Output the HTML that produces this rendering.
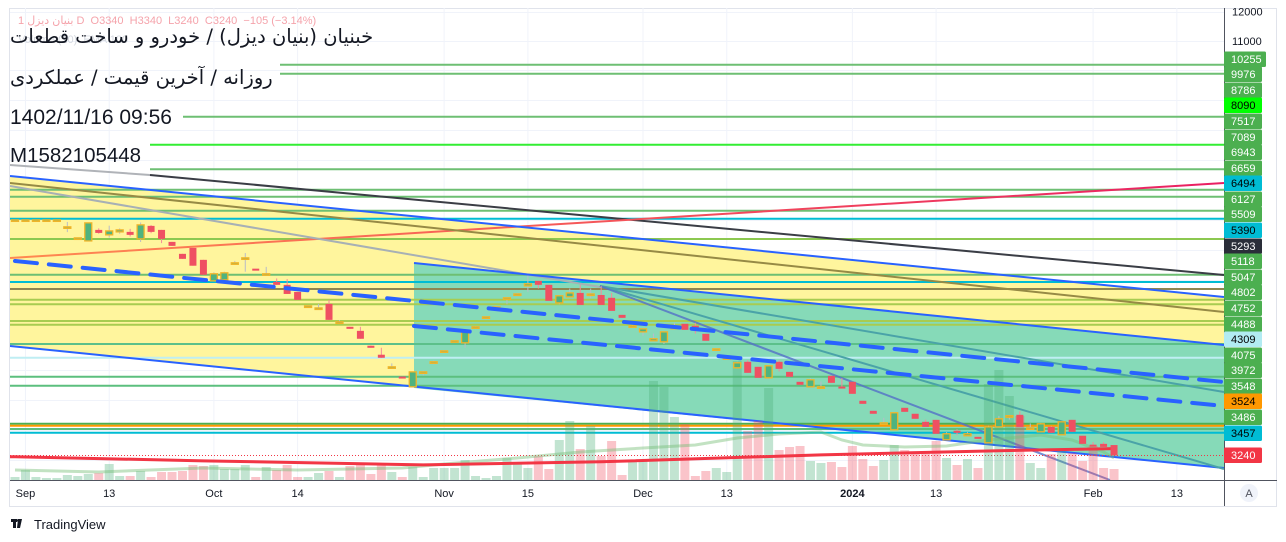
<!DOCTYPE html>
<html><head><meta charset="utf-8">
<style>
html,body{margin:0;padding:0;background:#fff;width:1286px;height:542px;overflow:hidden}
svg{position:absolute;left:0;top:0}
.ov{position:absolute;white-space:nowrap;color:#131722}
</style></head>
<body>
<svg id="chart" width="1286" height="542" viewBox="0 0 1286 542" xmlns="http://www.w3.org/2000/svg" font-family="Liberation Sans, sans-serif">
<defs>
<clipPath id="pane"><rect x="10" y="8" width="1214" height="472"/></clipPath>
<linearGradient id="orpk" x1="0" x2="1" y1="0" y2="0"><stop offset="0" stop-color="#ff8a50"/><stop offset="1" stop-color="#e91e63"/></linearGradient>
</defs>
<rect x="9.5" y="8.5" width="1267" height="498" fill="#fff" stroke="#e0e3eb"/>
<g id="grid"></g>
<g id="draw" clip-path="url(#pane)"></g>
<g id="vol" clip-path="url(#pane)"></g>
<g id="ind" clip-path="url(#pane)"></g>
<g id="cand" clip-path="url(#pane)"></g>
<g id="dash" clip-path="url(#pane)"></g>
<line x1="1224.5" y1="8" x2="1224.5" y2="506" stroke="#50535e"/>
<line x1="10" y1="480.5" x2="1277" y2="480.5" stroke="#50535e"/>
<g id="yaxis"></g>
<g id="xaxis"></g>
<circle cx="1249" cy="493" r="9" fill="#f0f3fa"/>
<text x="1249" y="497" font-size="11" fill="#50535e" text-anchor="middle">A</text>
<g>
<rect x="11" y="519" width="6" height="3" fill="#131722"/><rect x="13" y="519" width="3" height="9" fill="#131722"/>
<polygon points="18,519 22,519 20,528 17,528" fill="#131722"/><circle cx="18.5" cy="520.5" r="1.5" fill="#131722"/>
<text x="34" y="529" font-size="13" fill="#131722">TradingView</text>
</g>
</svg>

<div class="ov" style="left:18px;top:14px;font-size:11px;color:#f5a3ab;font-family:'Liberation Sans','DejaVu Sans',sans-serif">1 <span dir="rtl">بنیان دیزل</span> D&nbsp; O3340&nbsp; H3340&nbsp; L3240&nbsp; C3240&nbsp; −105 (−3.14%)</div>
<div class="ov" style="left:18px;top:34px;font-size:11px;color:#d5d9e0;font-family:'Liberation Sans',sans-serif">Volume (10)&nbsp; EMA 100</div>
<div class="ov" dir="rtl" style="left:10px;top:25px;font-size:19.5px;font-family:'DejaVu Sans',sans-serif">خبنیان (بنیان دیزل) / خودرو و ساخت قطعات</div>
<div class="ov" dir="rtl" style="left:10px;top:66px;font-size:19.5px;font-family:'DejaVu Sans',sans-serif">روزانه / آخرین قیمت / عملکردی</div>
<div class="ov" style="left:10px;top:106px;font-size:21px;font-family:'Liberation Sans',sans-serif">1402/11/16 09:56</div>
<div class="ov" style="left:10px;top:144px;font-size:20.5px;font-family:'Liberation Sans',sans-serif">M1582105448</div>

<script>
const opens=[6490,6490,6490,6490,6490,6358,6154,6099,6301,6209,6264,6264,6136,6376,6301,6082,5871,5975,5768,5421,5437,5718,5802,5620,5536,5405,5358,5247,5035,5005,5065,4804,4734,4678,4477,4360,4207,4088,3966,4145,4270,4410,4543,4516,4734,4875,5020,5157,5200,5342,5421,5358,5080,5172,5232,5216,5200,5157,4904,4748,4664,4543,4529,4706,4776,4748,4637,4436,4321,4195,4270,4207,4073,4270,4145,4025,3966,3966,4097,3969,4025,3806,3695,3566,3494,3728,3663,3577,3598,3392,3484,3433,3422,3362,3524,3642,3652,3514,3473,3524,3443,3598,3433,3344,3352,3340];
const closes=[6490,6490,6490,6490,6490,6358,6154,6433,6245,6282,6301,6209,6395,6264,6136,6011,5785,5669,5520,5536,5552,5718,5802,5614,5536,5358,5216,5126,5035,5005,4832,4804,4706,4570,4450,4321,4207,4082,4145,4145,4270,4410,4543,4678,4734,4875,5020,5157,5216,5374,5358,5111,5188,5232,5050,5216,5050,4962,4861,4748,4706,4570,4664,4734,4692,4692,4543,4436,4321,4257,4133,4073,4220,4182,4085,3990,4049,3966,4013,3963,3885,3772,3663,3566,3674,3684,3609,3524,3453,3453,3463,3453,3402,3524,3609,3642,3524,3514,3556,3463,3577,3473,3352,3340,3322,3240];
const highs=[6490,6490,6490,6490,6490,6450,6160,6440,6330,6380,6330,6320,6440,6390,6301,6082,5871,5975,5768,5560,5570,5750,5885,5617,5650,5460,5450,5247,5035,5065,5126,4830,4734,4734,4480,4450,4250,4088,4145,4160,4285,4420,4555,4690,4745,4885,5030,5170,5230,5505,5421,5358,5188,5300,5358,5300,5342,5230,4904,4760,4710,4640,4664,4790,4776,4790,4637,4440,4330,4270,4290,4207,4220,4290,4145,4025,4070,4030,4097,4070,4025,3806,3695,3620,3674,3728,3663,3600,3598,3470,3500,3470,3422,3535,3640,3650,3690,3560,3565,3535,3577,3598,3433,3370,3370,3340];
const lows=[6490,6490,6490,6490,6490,6260,6154,6099,6230,6160,6230,6180,6080,6240,6060,6011,5785,5669,5520,5421,5437,5700,5570,5617,5536,5358,5216,5126,5035,5005,4832,4804,4706,4570,4450,4321,4207,4082,3966,4100,4240,4390,4520,4450,4700,4840,4960,5060,5200,5250,5300,5111,5060,5172,5050,5150,5050,4962,4861,4748,4610,4543,4500,4706,4692,4640,4543,4436,4321,4195,4133,4073,4073,4150,4085,3990,3966,3966,4013,3963,3885,3772,3663,3566,3494,3684,3609,3524,3453,3392,3440,3433,3402,3362,3524,3600,3524,3514,3473,3463,3443,3473,3352,3340,3322,3240];
const volumes=[3,10,3,2,2,5,4,6,7,16,4,4,9,3,8,8,9,15,14,15,11,11,15,3,13,10,15,3,3,7,9,3,14,16,6,15,8,3,13,3,12,12,12,20,4,2,4,22,18,12,24,11,40,59,31,54,24,39,5,18,20,99,93,63,56,4,9,12,8,119,49,59,92,30,33,34,19,17,18,13,34,21,14,20,35,30,28,28,39,22,15,21,12,96,110,84,64,17,12,26,31,27,19,34,12,11];
const volMaIdx=[0,8,18,27,37,41,48,54,60,65,69,73,77,79,81,85,89,93,98,101,104,105];
const volMaVals=[10,8,12,10,12,16,22,28,32,35,42,46,48,40,35,33,34,40,45,40,28,22];
const emaIdx=[0,18,39,56,77,94,105];
const emaVals=[3227,3188,3150,3179,3245,3285,3305];
const priceTicks=[12000,11000];
const timeTicks=[[1,'Sep'],[9,'13'],[19,'Oct'],[27,'14'],[41,'Nov'],[49,'15'],[60,'Dec'],[68,'13'],[80,'2024'],[88,'13'],[103,'Feb'],[111,'13']];
const levelLabels=[['10255',59,'#4caf50','#fff'],['9976',74,'#4caf50','#fff'],['8786',90,'#4caf50','#fff'],['8090',105,'#00ff00','#000'],['7517',121,'#4caf50','#fff'],['7089',137,'#4caf50','#fff'],['6943',152,'#4caf50','#fff'],['6659',168,'#4caf50','#fff'],['6494',183,'#00bcd4','#000'],['6127',199,'#4caf50','#fff'],['5509',214,'#4caf50','#fff'],['5390',230,'#00bcd4','#000'],['5293',246,'#2a2e39','#fff'],['5118',261,'#4caf50','#fff'],['5047',277,'#4caf50','#fff'],['4802',292,'#4caf50','#fff'],['4752',308,'#4caf50','#fff'],['4488',324,'#4caf50','#fff'],['4309',339,'#b2ebf2','#000'],['4075',355,'#4caf50','#fff'],['3972',370,'#4caf50','#fff'],['3548',386,'#4caf50','#fff'],['3524',401,'#ff9800','#000'],['3486',417,'#4caf50','#fff'],['3457',433,'#00bcd4','#000'],['3240',455,'#f23645','#fff']];

const NS='http://www.w3.org/2000/svg';
const X0=15, STEP=10.467;
function xOf(i){return X0+STEP*i;}
function yOf(p){return 41+339*Math.log(11000/p);}
function vy(v){return 480-v;}
function mk(tag,attrs,parent){const e=document.createElementNS(NS,tag);for(const k in attrs)e.setAttribute(k,attrs[k]);parent.appendChild(e);return e;}
const grid=document.getElementById('grid'),draw=document.getElementById('draw'),vol=document.getElementById('vol'),ind=document.getElementById('ind'),cand=document.getElementById('cand'),dash=document.getElementById('dash'),yaxis=document.getElementById('yaxis'),xaxis=document.getElementById('xaxis');

[12,41,70,100,130,160,190,220,250,280,310,340,370,400,430,460].forEach(y=>{const l=mk('line',{x1:10,x2:1224,y1:y+.5,y2:y+.5,stroke:'#f0f3fa'},grid);

});
timeTicks.forEach(t=>{const x=xOf(t[0]);const l=mk('line',{x1:x,x2:x,y1:8,y2:480,stroke:'#f0f3fa'},grid);

});

function poly(pts,fill,name){const p=mk('polygon',{points:pts,fill:fill},draw);

}
function ln(x1,y1,x2,y2,c,w,name,extra){const l=mk('line',Object.assign({x1,y1,x2,y2,stroke:c,'stroke-width':w},extra||{}),draw);


return l;}
poly('10,176 1224,297 1224,468 10,346','#fff59d','yellow-channel');
poly('414,263 1224,345 1224,468 414,388','#86dab8','green-channel');
const hl=[[64.7,280,'#6ebf73'],[73.7,280,'#6ebf73'],[116.7,183,'#6ebf73'],[144.7,150,'#33ee33'],[169.3,150,'#6ebf73'],[189.7,10,'#6ebf73'],[196.7,10,'#6ebf73'],[210.7,10,'#6ebf73'],[218.7,10,'#00bcd4'],[239,10,'#8cc850'],[274.7,10,'#6ebf73'],[282,10,'#00bcd4'],[289,10,'#8f8650'],[299.7,10,'#a8cc50'],[304.3,10,'#a8cc50'],[321,10,'#a8cc50'],[324.7,10,'#a8cc50'],[344,10,'#5cc08a'],[357.7,10,'#bfeef3'],[376.7,10,'#5cbf7e'],[385.7,10,'#5cbf7e'],[423.7,10,'#4caf50'],[425.7,10,'#ff9800'],[429,10,'#5cbf7e'],[432.7,10,'#00bcd4']];
hl.forEach(h=>ln(h[1],h[0],1224,h[0],h[2],2,'horizontal-level'));
ln(10,165,150,175,'#b0b3b8',2,'trend-line-gray-top');
ln(150,175,1224,275,'#3a3d45',2,'trend-line-dark');
ln(10,258,1224,183,'url(#orpk)',2,'trend-line-pink');
ln(10,183,1224,312,'#968a45',2,'trend-line-olive');
ln(10,186,600,287,'#a7b0b5',2,'trend-line-gray');
ln(10,176,1224,297,'#2962ff',2,'channel-top');
ln(10,346,1224,468,'#2962ff',2,'channel-bottom');
ln(414,263,1224,345,'#2962ff',2,'green-channel-top');
ln(600,286,1224,392,'#4aa3a8',2,'fan-line-1');
ln(600,286,1224,469,'#4aa3a8',2,'fan-line-2');
ln(600,286,1110,480,'#5470c8',2,'fan-line-3',{opacity:.8});
function dl(x1,y1,x2,y2,name){const l=mk('line',{x1,y1,x2,y2,stroke:'#2962ff','stroke-width':4,'stroke-dasharray':'22 12','stroke-linecap':'round'},dash);

}
dl(15,261,1224,382,'yellow-channel-midline');
dl(414,326,1224,406,'green-channel-midline');
ln(10,455.5,1224,455.5,'#f23645',1,'last-price-line',{'stroke-dasharray':'1 2'});

volumes.forEach((v,i)=>{const up=closes[i]>=opens[i];const r=mk('rect',{x:xOf(i)-4.5,y:vy(v),width:9,height:v,fill:up?'rgba(76,175,120,0.34)':'rgba(239,83,100,0.34)'},vol);

});
const vm=mk('polyline',{points:volMaIdx.map((d,k)=>xOf(d)+','+vy(volMaVals[k])).join(' '),fill:'none',stroke:'rgba(120,190,120,0.45)','stroke-width':3},ind);


const em=mk('polyline',{points:['10,'+yOf(emaVals[0])].concat(emaIdx.map((d,k)=>xOf(d)+','+yOf(emaVals[k]))).join(' '),fill:'none',stroke:'#f23645','stroke-width':3},ind);



opens.forEach((o,i)=>{const c=closes[i],x=xOf(i),up=c>=o;const g=mk('g',{},cand);


 const top=yOf(Math.max(o,c)),bot=yOf(Math.min(o,c));
 mk('line',{x1:x,x2:x,y1:yOf(highs[i]),y2:yOf(lows[i]),stroke:up?'#b8bcc8':'#f48a9a','stroke-width':1},g);
 const h=Math.max(bot-top,1.5);
 if(up) mk('rect',{x:x-3.5,y:top,width:7,height:h,fill:'#4fb37f',stroke:'#f0b429','stroke-width':1.3},g);
 else mk('rect',{x:x-3.5,y:top,width:7,height:Math.max(h,2),fill:'#ef5062'},g);
});

priceTicks.forEach(p=>{const t=mk('text',{x:1232,y:yOf(p)+4,'font-size':11,fill:'#131722'},yaxis);t.textContent=p;

});
levelLabels.forEach(L=>{const g=mk('g',{},yaxis);


 mk('rect',{x:1224,y:L[1]-7.5,width:L[0].length>4?42:38,height:15.5,rx:1.5,fill:L[2]},g);
 const t=mk('text',{x:1231,y:L[1]+4,'font-size':11,fill:L[3]},g);t.textContent=L[0];});
timeTicks.forEach(t=>{const e=mk('text',{x:xOf(t[0]),y:497,'font-size':11,fill:'#131722','text-anchor':'middle','font-weight':t[1]==='2024'?'bold':'normal'},xaxis);e.textContent=t[1];

});
</script>
</body></html>
